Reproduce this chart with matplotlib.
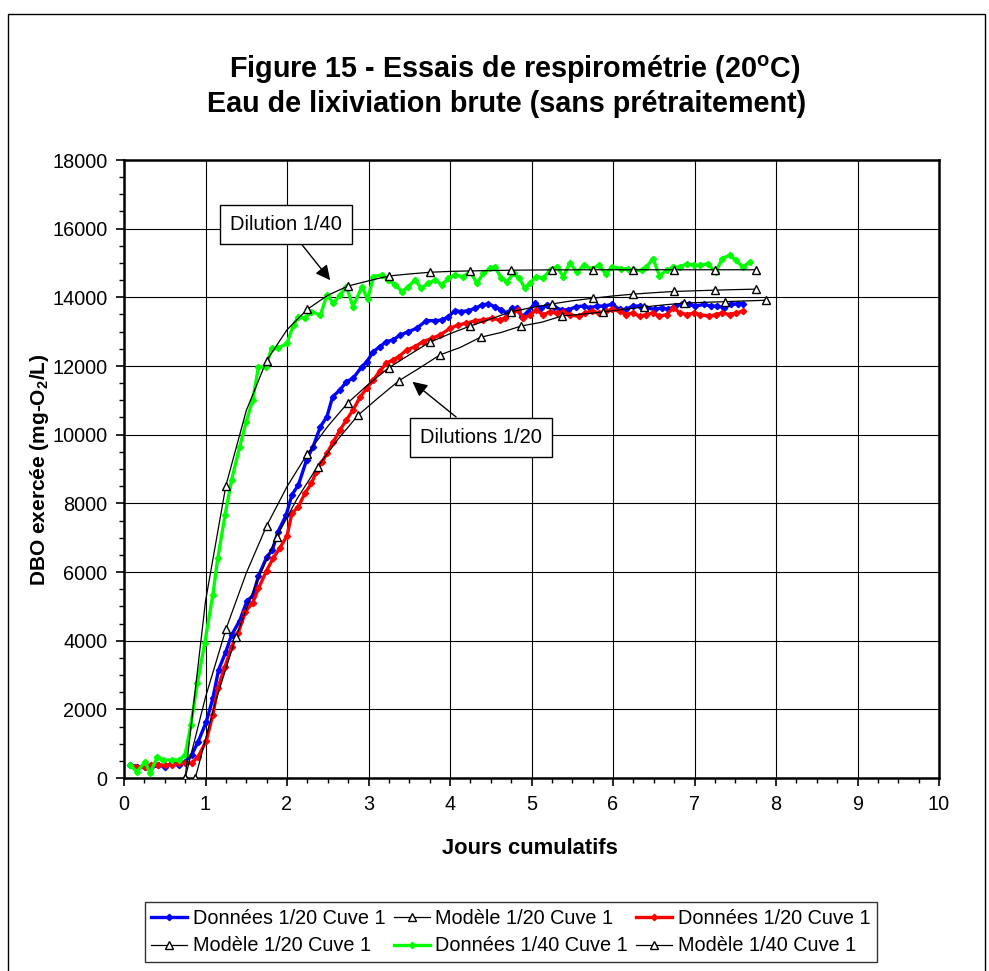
"""
Respirometry test figure (Figure 15) - raw leachate, BOD exerted vs cumulative days.
Writes out.png.
"""

from __future__ import annotations

import matplotlib

matplotlib.use("Agg")
import matplotlib.pyplot as plt
from matplotlib.patches import Rectangle

plt.rcParams["font.family"] = ["Liberation Sans", "DejaVu Sans"]
plt.rcParams["mathtext.fontset"] = "custom"
plt.rcParams["mathtext.rm"] = "Liberation Sans"
plt.rcParams["mathtext.bf"] = "Liberation Sans:bold"

# ---- data -------------------------------------------------------------------

blue_days = [
    0.07, 0.16, 0.26, 0.32, 0.42, 0.50, 0.585, 0.67, 0.75, 0.83, 0.91, 1.01,
    1.09, 1.16, 1.25, 1.32, 1.42, 1.51, 1.58, 1.65, 1.75, 1.82, 1.89, 1.99,
    2.06, 2.14, 2.24, 2.32, 2.41, 2.49, 2.56, 2.65, 2.73, 2.81, 2.92, 2.98,
    3.06, 3.14, 3.22, 3.30, 3.39, 3.49, 3.59, 3.71, 3.82, 3.90, 3.98, 4.06,
    4.14, 4.22, 4.31, 4.39, 4.47, 4.55, 4.63, 4.70, 4.76, 4.82, 4.88, 4.96,
    5.04, 5.12, 5.19, 5.27, 5.37, 5.45, 5.55, 5.64, 5.72, 5.80, 5.89, 5.99,
    6.08, 6.16, 6.24, 6.33, 6.41, 6.51, 6.60, 6.68, 6.76, 6.85, 6.93, 7.01,
    7.12, 7.20, 7.28, 7.36, 7.45, 7.53, 7.60,
]
blue_dbo = [
    380, 330, 330, 282, 380, 330, 427, 380, 476, 670, 1058, 1641,
    2320, 3146, 3680, 4165, 4583, 5165, 5300, 5883, 6428, 6640, 7175, 7660,
    8244, 8535, 9263, 9650, 10233, 10525, 11107, 11300, 11544, 11642, 11981, 12126,
    12418, 12564, 12710, 12758, 12904, 13000, 13098, 13320, 13320, 13340, 13437, 13612,
    13583, 13612, 13680, 13778, 13807, 13729, 13632, 13536, 13680, 13680, 13437, 13583,
    13827, 13680, 13778, 13729, 13632, 13632, 13729, 13746, 13697, 13746, 13746, 13795,
    13647, 13647, 13746, 13746, 13697, 13647, 13697, 13647, 13746, 13795, 13795, 13746,
    13795, 13746, 13746, 13697, 13795, 13815, 13815,
]

red_days = [
    0.13, 0.26, 0.33, 0.42, 0.50, 0.585, 0.67, 0.75, 0.83, 0.91, 1.01, 1.09,
    1.15, 1.24, 1.32, 1.40, 1.49, 1.58, 1.65, 1.75, 1.83, 1.91, 2.00, 2.06,
    2.14, 2.22, 2.30, 2.36, 2.43, 2.49, 2.57, 2.65, 2.73, 2.81, 2.90, 2.98,
    3.06, 3.14, 3.22, 3.30, 3.37, 3.47, 3.57, 3.67, 3.78, 3.88, 4.00, 4.10,
    4.20, 4.31, 4.41, 4.51, 4.61, 4.67, 4.76, 4.84, 4.90, 4.98, 5.06, 5.14,
    5.23, 5.31, 5.39, 5.47, 5.58, 5.66, 5.74, 5.83, 5.91, 5.99, 6.08, 6.16,
    6.24, 6.33, 6.41, 6.49, 6.57, 6.66, 6.74, 6.82, 6.91, 6.99, 7.07, 7.18,
    7.26, 7.34, 7.43, 7.51, 7.60,
]
red_dbo = [
    330, 330, 380, 380, 380, 380, 427, 427, 427, 621, 1088, 1835,
    2612, 3243, 3825, 4214, 4844, 5106, 5524, 6040, 6400, 6691, 7050, 7710,
    7903, 8292, 8584, 8923, 9200, 9457, 9797, 10137, 10428, 10719, 11107, 11350,
    11593, 11860, 12079, 12176, 12273, 12467, 12564, 12710, 12807, 12904, 13098, 13196,
    13244, 13320, 13340, 13390, 13340, 13390, 13536, 13632, 13390, 13486, 13632, 13486,
    13583, 13536, 13583, 13490, 13449, 13547, 13597, 13547, 13597, 13646, 13597, 13498,
    13547, 13449, 13498, 13547, 13449, 13498, 13697, 13547, 13498, 13547, 13498, 13449,
    13498, 13547, 13498, 13547, 13597,
]

green_days = [
    0.07, 0.16, 0.26, 0.32, 0.41, 0.48, 0.585, 0.67, 0.75, 0.82, 0.90, 0.99,
    1.09, 1.15, 1.24, 1.32, 1.42, 1.50, 1.58, 1.65, 1.74, 1.81, 1.89, 2.00,
    2.08, 2.14, 2.22, 2.30, 2.41, 2.49, 2.57, 2.65, 2.73, 2.81, 2.92, 2.99,
    3.06, 3.16, 3.24, 3.33, 3.41, 3.49, 3.57, 3.65, 3.73, 3.82, 3.90, 3.98,
    4.06, 4.16, 4.25, 4.33, 4.41, 4.49, 4.55, 4.63, 4.70, 4.78, 4.85, 4.92,
    4.98, 5.06, 5.14, 5.23, 5.31, 5.39, 5.47, 5.56, 5.64, 5.74, 5.83, 5.91,
    5.99, 6.10, 6.18, 6.26, 6.35, 6.41, 6.49, 6.57, 6.66, 6.74, 6.82, 6.91,
    6.99, 7.07, 7.16, 7.26, 7.34, 7.43, 7.51, 7.59, 7.68,
]
green_dbo = [
    380, 185, 476, 136, 621, 524, 524, 524, 670, 1544, 2758, 3923,
    5330, 6400, 7660, 8680, 9650, 10380, 11010, 11981, 11962, 12515, 12515, 12661,
    13195, 13437, 13390, 13583, 13486, 14069, 13827, 14069, 14311, 13729, 14311, 13943,
    14603, 14650, 14506, 14361, 14166, 14311, 14506, 14264, 14409, 14506, 14361, 14555,
    14652, 14603, 14749, 14409, 14700, 14846, 14895, 14555, 14458, 14700, 14550, 14264,
    14409, 14603, 14555, 14798, 14895, 14603, 14992, 14733, 14931, 14832, 14931, 14684,
    14891, 14832, 14832, 14783, 14783, 14882, 15129, 14634, 14783, 14882, 14882, 14981,
    14931, 14931, 14981, 14733, 15129, 15228, 15080, 14882, 15031,
]

# model curves, every 0.25 d (triangle markers every 0.5 d)
model_a_days = [0.75 + 0.25 * i for i in range(29)]
model_a_dbo = [
    0, 2355, 4330, 5967, 7345, 8486, 9444, 10243, 10935, 11470, 11950, 12325,
    12690, 12940, 13166, 13370, 13583, 13700, 13807, 13900, 13973, 14040, 14093, 14135,
    14171, 14190, 14209, 14225, 14238,
]
model_b_days = [0.875 + 0.25 * i for i in range(29)]
model_b_dbo = [
    0, 2240, 4117, 5700, 7030, 8140, 9068, 9866, 10574, 11083, 11574, 11940,
    12322, 12540, 12837, 12975, 13166, 13275, 13457, 13510, 13577, 13650, 13717, 13780,
    13833, 13855, 13874, 13895, 13915,
]
model_40_days = [0.75 + 0.25 * i for i in range(29)]
model_40_dbo = [
    0, 5150, 8515, 10700, 12156, 13055, 13652, 14060, 14330, 14480, 14623, 14680,
    14730, 14755, 14770, 14780, 14790, 14795, 14800, 14800, 14803, 14803, 14803, 14803,
    14803, 14803, 14803, 14803, 14803,
]

legend_labels = [
    "Données 1/20 Cuve 1", "Modèle 1/20 Cuve 1", "Données 1/20 Cuve 1",
    "Modèle 1/20 Cuve 1", "Données 1/40 Cuve 1", "Modèle 1/40 Cuve 1",
]


def _data_line(ax, x, y, color, label):
    return ax.plot(
        x, y, color=color, lw=2.4, marker="D", ms=3.2, mec=color, mfc=color,
        label=label, zorder=3,
    )[0]


def _model_line(ax, x, y, label):
    return ax.plot(
        x, y, color="black", lw=0.9, marker="^", ms=6, mfc="white", mec="black",
        mew=1.0, markevery=2, label=label, zorder=4,
    )[0]


def main() -> None:
    fig = plt.figure(figsize=(9.89, 9.71), dpi=100)
    fig.patches.append(
        Rectangle((8 / 989, -0.02), 977 / 989, 1.02 - 14 / 971,
                  transform=fig.transFigure, fill=False, ec="black", lw=1.0)
    )

    ax = fig.add_axes([124 / 989, 1 - 778 / 971, 815 / 989, 618 / 971])

    h0 = _data_line(ax, blue_days, blue_dbo, "#0000ff", legend_labels[0])
    h1 = _model_line(ax, model_a_days, model_a_dbo, legend_labels[1])
    h2 = _data_line(ax, red_days, red_dbo, "#ff0000", legend_labels[2])
    h3 = _model_line(ax, model_b_days, model_b_dbo, legend_labels[3])
    h4 = _data_line(ax, green_days, green_dbo, "#00ff00", legend_labels[4])
    h5 = _model_line(ax, model_40_days, model_40_dbo, legend_labels[5])

    ax.set_xlim(0, 10)
    ax.set_ylim(0, 18000)
    ax.set_xticks(range(0, 11))
    ax.set_yticks(range(0, 18001, 2000))
    ax.set_xticks([i * 0.25 for i in range(41)], minor=True)
    ax.set_yticks(range(0, 18001, 500), minor=True)
    ax.grid(True, which="major", color="black", lw=0.8)
    ax.set_axisbelow(True)
    for s in ax.spines.values():
        s.set_linewidth(1.8)
    ax.tick_params(which="major", direction="out", length=6, width=1.2,
                   labelsize=14.3, pad=6)
    ax.tick_params(which="minor", direction="out", length=3.5, width=1.0)

    box = dict(boxstyle="square,pad=0.5", fc="white", ec="black", lw=1.0)
    arrow = dict(arrowstyle="-|>", color="black", lw=1.0, mutation_scale=22,
                 shrinkA=0, shrinkB=0)
    ax.annotate("Dilution 1/40", xy=(2.53, 14500), xytext=(1.99, 16110),
                ha="center", va="center", fontsize=14.5, bbox=box,
                arrowprops=arrow, zorder=6)
    ax.annotate("Dilutions 1/20", xy=(3.54, 11540), xytext=(4.38, 9930),
                ha="center", va="center", fontsize=14.5, bbox=box,
                arrowprops=arrow, zorder=6)

    fig.text(515 / 989, 1 - 70 / 971,
             r"Figure 15 - Essais de respirométrie (20$^{\mathbf{o}}$C)",
             ha="center", va="center", fontsize=20.7, fontweight="bold")
    fig.text(507 / 989, 1 - 104 / 971,
             "Eau de lixiviation brute (sans prétraitement)",
             ha="center", va="center", fontsize=20.7, fontweight="bold")
    fig.text(40 / 989, 1 - 470 / 971,
             r"DBO exercée (mg-O$_{\mathbf{2}}$/L)",
             ha="center", va="center", rotation=90, fontsize=15,
             fontweight="bold")
    fig.text(530 / 989, 1 - 848 / 971, "Jours cumulatifs",
             ha="center", va="center", fontsize=15.8, fontweight="bold")

    # matplotlib fills legend columns first: reorder so rows read as in the source
    handles = [h0, h3, h1, h4, h2, h5]
    labels = [h.get_label() for h in handles]
    leg = fig.legend(handles, labels, loc="center", ncol=3,
                     bbox_to_anchor=(511 / 989, 1 - 932 / 971),
                     fontsize=14.3, frameon=True, fancybox=False,
                     edgecolor="black", handlelength=1.8, handletextpad=0.3,
                     columnspacing=0.4, labelspacing=0.45, borderpad=0.35)
    leg.get_frame().set_linewidth(1.0)

    fig.savefig("out.png", dpi=100)
    plt.close(fig)


if __name__ == "__main__":
    main()
